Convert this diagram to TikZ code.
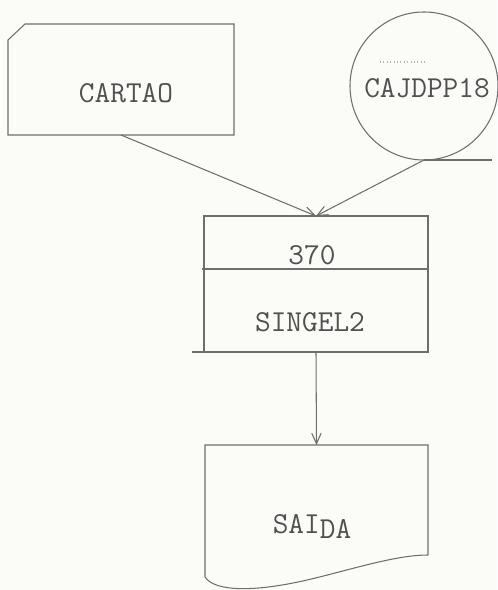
\documentclass[tikz,border=0pt]{standalone}
\usetikzlibrary{arrows.meta,calc}
\definecolor{inkgray}{RGB}{110,110,110}
\definecolor{typegray}{RGB}{80,80,80}
\begin{document}
\begin{tikzpicture}[x=0.03cm,y=-0.03cm,
    line/.style={draw=inkgray,line width=0.9pt},
    flow/.style={line,-{Straight Barb[length=9pt,width=8pt]}},
    box/.style={inner sep=0pt,outer sep=0pt},
    txt/.style={text=typegray,font=\ttfamily\fontsize{26}{30}\selectfont,inner sep=0pt}]
    \useasboundingbox[fill={rgb,255:red,251;green,251;blue,248}] (0,0) rectangle (497,590);
    % cartao
    \node [box,minimum width=6.78cm,minimum height=3.33cm] (cartao) at (121,79.5) {};
    \draw [line] ($(cartao.north west)+(0,16)$) -- ($(cartao.north west)+(17,0)$) -- (cartao.north east)
        -- (cartao.south east) -- (cartao.south west) -- cycle;
    \node [txt] (cartaotxt) at (126,93) {CARTAO};
    % fita
    \node [line,box,circle,minimum size=4.44cm] (fita) at (424,86) {};
    \node [txt] (fitatxt) at (427,88) {CAJDPP18};
    \draw [line,dotted,draw=inkgray!50] (380,62) -- (427,62);
    \draw [line] (fita.south) -- ++(68,0);
    % processo
    \node [line,box,minimum width=6.72cm,minimum height=4.08cm] (proc) at (316,284) {};
    \draw [line] ($(proc.west)+(-2,-15)$) -- ($(proc.east)+(0,-15)$);
    \draw [line] ($(proc.south west)+(-12,0)$) -- (proc.south west);
    \node [txt] (proctop) at (312,255) {370};
    \node [txt] (procbot) at (310,322) {SINGEL2};
    % saida
    \node [box,minimum width=6.69cm,minimum height=3.3cm] (saida) at (316.5,500) {};
    \draw [line] (saida.south east) -- (saida.north east) -- (saida.north west) -- ($(saida.south west)+(0,22)$)
        .. controls ($(saida.south west)+(10,37)$) and ($(saida.south west)+(50,37)$) .. ($(saida.south west)+(102,25)$)
        .. controls ($(saida.south west)+(145,15)$) and ($(saida.south west)+(190,0)$) .. (saida.south east);
    \node [txt] (saidatxt) at (312,526) {SAI\raisebox{-0.15cm}{DA}};
    % ligacoes
    \draw [flow] (cartao.south) -- (proc.north);
    \draw [flow] (fita.south) -- (proc.north);
    \draw [flow] (proc.south) -- (saida.north);
\end{tikzpicture}
\end{document}
